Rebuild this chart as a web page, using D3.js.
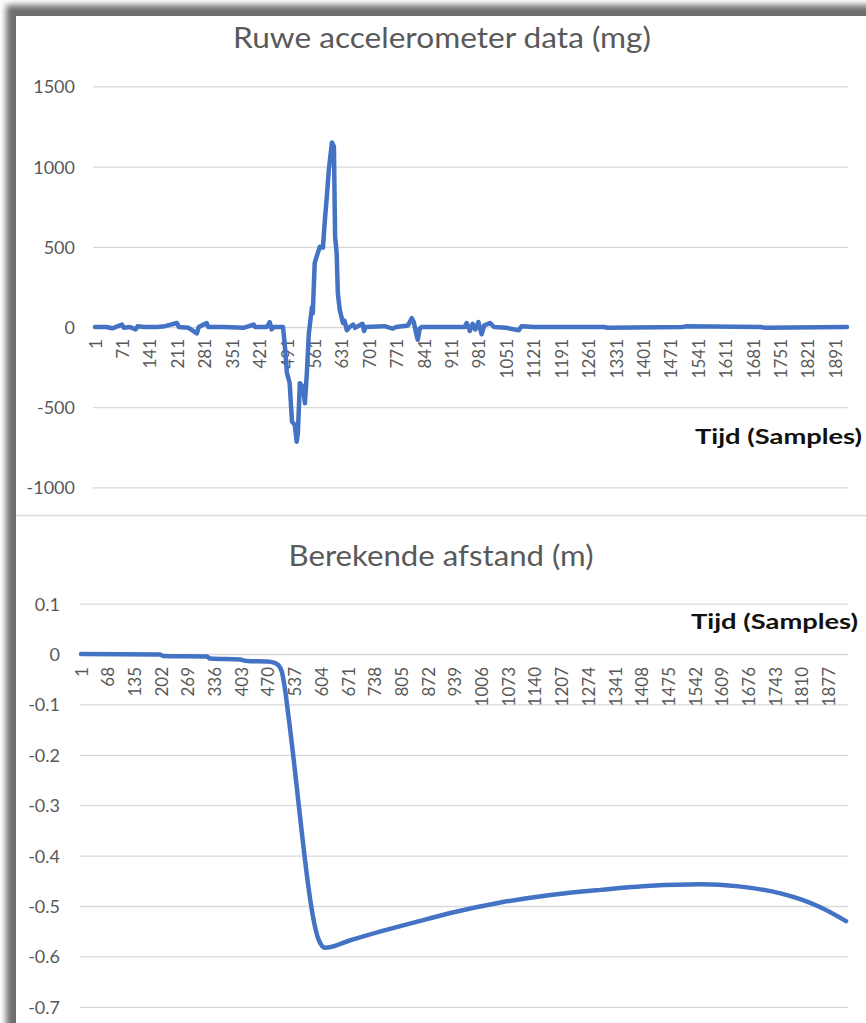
<!DOCTYPE html>
<html>
<head>
<meta charset="utf-8">
<script src="https://cdn.jsdelivr.net/npm/d3@7"></script>
<style>
  html, body { margin: 0; padding: 0; background: #fff; overflow: hidden; }
  svg { display: block; }
</style>
</head>
<body>
<script>
// ---- Data -------------------------------------------------------------
const sampleCount = 1921;

// Raw accelerometer signal (mg), sample index -> value
const accelSamples = [1, 30, 45, 60, 70, 75, 90, 105, 110, 125, 160, 180, 210, 215, 240, 261, 266, 286, 290,
  330, 380, 406, 410, 440, 447, 452, 458, 478, 481, 486, 491, 498, 504, 511, 516, 519, 524, 532, 537, 542,
  547, 555, 557, 562, 567, 575, 583, 588, 593, 598, 606, 611, 614, 618, 621, 626, 634, 638, 644, 651, 660,
  665, 684, 688, 692, 740, 761, 770, 800, 810, 815, 820, 825, 830, 835, 945, 950, 958, 965, 972, 980, 988,
  995, 1010, 1020, 1050, 1083, 1090, 1120, 1300, 1310, 1500, 1510, 1700, 1710, 1921];
const accelValues = [0, 0, -8, 5, 15, -5, 0, -15, 5, 0, 0, 5, 25, 0, -5, -40, 0, 25, 0,
  0, -5, 15, 0, 0, 30, -15, 0, 0, 0, -125, -285, -350, -590, -610, -715, -660, -350, -375, -475, -285,
  -40, 125, 85, 400, 440, 500, 495, 670, 815, 980, 1150, 1125, 565, 460, 210, 105, 25, 40, -20, 0, 15,
  -5, 20, -25, 0, 5, -10, 0, 10, 55, 30, -30, -80, -10, 0, 0, 25, -25, 20, -15, 30, -45,
  10, 25, 0, -5, -20, 5, 0, 0, -5, 0, 4, 0, -4, 0];
const accelTicks = [-1000, -500, 0, 500, 1000, 1500];
const accelLabelStep = 70;

// Computed displacement (m), sample index -> value
const distSamples = [1, 199, 207, 317, 325, 400, 418, 468, 485, 496, 505, 513, 522, 598, 613,
  677, 760, 845, 928, 1054, 1180, 1305, 1431, 1556, 1619, 1682, 1757, 1808, 1858, 1921];
const distValues = [0, -0.001, -0.004, -0.005, -0.009, -0.011, -0.014, -0.015, -0.017, -0.022, -0.035, -0.07,
  -0.125, -0.568, -0.583,
  -0.568, -0.549, -0.531, -0.514, -0.493, -0.478, -0.468, -0.46, -0.457, -0.459, -0.464, -0.475, -0.487, -0.503, -0.53];
const distTicks = [-0.7, -0.6, -0.5, -0.4, -0.3, -0.2, -0.1, 0, 0.1];
const distLabelStep = 67;

const accelTitle = "Ruwe accelerometer data (mg)";
const distTitle = "Berekende afstand (m)";
const timeTitle = "Tijd (Samples)";

// ---- Canvas -------------------------------------------------------------
const W = 866, H = 1023;
const FONT = "Lato, 'Open Sans', 'Noto Sans', sans-serif";
const LINE_COLOR = "#4472c4";
const GRID_COLOR = "#d9d9d9";
const TEXT_COLOR = "#595959";

const svg = d3.select("body").append("svg")
  .attr("width", W).attr("height", H)
  .style("font-family", FONT);

const defs = svg.append("defs");
defs.append("filter").attr("id", "frameShadow")
  .attr("x", "-10%").attr("y", "-10%").attr("width", "120%").attr("height", "120%")
  .append("feGaussianBlur").attr("stdDeviation", 3.2);

// frame with its shadow on the top and left edges
svg.append("rect").attr("x", 6).attr("y", 5).attr("width", W + 40).attr("height", H + 40)
  .attr("fill", "#6e6e6e").attr("filter", "url(#frameShadow)");
svg.append("rect").attr("x", 16).attr("y", 16).attr("width", W).attr("height", H).attr("fill", "#fff");

// separator between the two charts
svg.append("line").attr("x1", 16).attr("x2", W).attr("y1", 515.5).attr("y2", 515.5)
  .attr("stroke", GRID_COLOR).attr("stroke-width", 1.5);

function range(start, stop, step) {
  const out = [];
  for (let v = start; v <= stop; v += step) out.push(v);
  return out;
}

function drawPanel(cfg) {
  const g = svg.append("g");
  const x = d3.scaleLinear().domain([1, sampleCount]).range(cfg.xRange);
  const y = d3.scaleLinear().domain(cfg.yDomain).range(cfg.yRange);

  // gridlines + value labels
  const yAxis = d3.axisLeft(y)
    .tickValues(cfg.yTicks)
    .tickSize(-(cfg.gridRight - cfg.gridLeft))
    .tickPadding(cfg.yLabelPad)
    .tickFormat(d => String(d));
  const ya = g.append("g").attr("transform", `translate(${cfg.gridLeft},0)`).call(yAxis);
  ya.select(".domain").remove();
  ya.selectAll(".tick line").attr("stroke", GRID_COLOR).attr("stroke-width", 1.3);
  ya.selectAll(".tick text").attr("fill", TEXT_COLOR).style("font-size", "18px")
    .style("font-family", FONT).attr("dy", "0.36em");

  // category labels along the zero line, rotated
  const xAxis = d3.axisBottom(x)
    .tickValues(range(1, sampleCount, cfg.labelStep))
    .tickSize(0)
    .tickFormat(d => String(d));
  const xa = g.append("g").attr("transform", `translate(0,${y(0)})`).call(xAxis);
  xa.select(".domain").remove();
  xa.selectAll(".tick text")
    .attr("transform", "rotate(-90)")
    .attr("text-anchor", "end")
    .attr("x", -cfg.xLabelGap)
    .attr("y", 0)
    .attr("dy", "0.36em")
    .attr("fill", TEXT_COLOR)
    .style("font-size", "17px")
    .style("font-family", FONT);

  // series line
  const pts = cfg.samples.map((s, i) => ({ s, v: cfg.values[i] }));
  const line = d3.line().x(d => x(d.s)).y(d => y(d.v)).curve(cfg.curve);
  g.append("path").datum(pts)
    .attr("d", line)
    .attr("fill", "none")
    .attr("stroke", LINE_COLOR)
    .attr("stroke-width", 4.5)
    .attr("stroke-linejoin", "round")
    .attr("stroke-linecap", "round");

  // chart title
  g.append("text")
    .attr("x", cfg.titleX).attr("y", cfg.titleY)
    .attr("text-anchor", "middle")
    .attr("fill", TEXT_COLOR)
    .attr("textLength", cfg.titleLength).attr("lengthAdjust", "spacingAndGlyphs")
    .style("font-size", "29px")
    .text(cfg.title);

  // horizontal axis title
  g.append("text")
    .attr("x", cfg.axisTitleX).attr("y", cfg.axisTitleY)
    .attr("text-anchor", "end")
    .attr("fill", "#111")
    .attr("font-weight", "bold")
    .attr("textLength", 167).attr("lengthAdjust", "spacingAndGlyphs")
    .style("font-size", "21px")
    .text(timeTitle);
}

drawPanel({
  samples: accelSamples, values: accelValues,
  yDomain: [-1000, 1500], yRange: [487.4, 86.4], yTicks: accelTicks,
  xRange: [95, 847], gridLeft: 93, gridRight: 848, yLabelPad: 18,
  labelStep: accelLabelStep, xLabelGap: 12,
  curve: d3.curveLinear,
  title: accelTitle, titleX: 442, titleY: 48, titleLength: 418,
  axisTitleX: 862, axisTitleY: 444
});

drawPanel({
  samples: distSamples, values: distValues,
  yDomain: [-0.7, 0.1], yRange: [1006.8, 603.6], yTicks: distTicks,
  xRange: [81, 846], gridLeft: 80, gridRight: 848, yLabelPad: 20,
  labelStep: distLabelStep, xLabelGap: 13,
  curve: d3.curveMonotoneX,
  title: distTitle, titleX: 441, titleY: 566, titleLength: 305,
  axisTitleX: 858, axisTitleY: 629
});
</script>
</body>
</html>
